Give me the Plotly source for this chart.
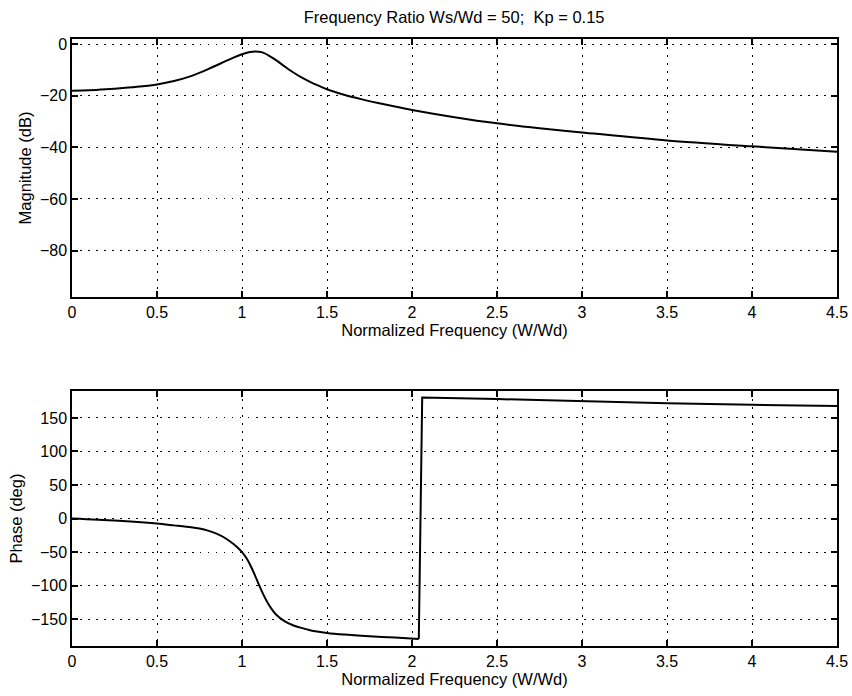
import plotly.graph_objects as go
from plotly.subplots import make_subplots

# Magnitude response (dB) vs normalized frequency
mag_x = [0, 0.1, 0.2, 0.3, 0.4, 0.5, 0.6, 0.7, 0.8, 0.9, 0.95, 1.0, 1.04, 1.08, 1.12, 1.16, 1.2, 1.25, 1.3, 1.35, 1.4, 1.45, 1.5, 1.6, 1.7, 1.8, 1.9, 2.0, 2.25, 2.5, 2.75, 3.0, 3.5, 4.0, 4.5]
mag_db = [-18.1, -17.9, -17.5, -17.0, -16.4, -15.6, -14.3, -12.4, -9.7, -6.7, -5.2, -3.9, -3.1, -2.8, -3.2, -4.5, -6.2, -8.6, -10.9, -12.9, -14.6, -16.1, -17.5, -19.6, -21.3, -22.8, -24.2, -25.5, -28.3, -30.7, -32.6, -34.2, -37.3, -39.6, -41.7]

# Phase response (deg): lower branch before the wrap, upper branch after
ph_lo_x = [0, 0.25, 0.5, 0.6, 0.7, 0.75, 0.8, 0.85, 0.9, 0.95, 0.975, 1.0, 1.025, 1.05, 1.075, 1.1, 1.125, 1.15, 1.175, 1.2, 1.25, 1.3, 1.35, 1.4, 1.5, 1.6, 1.75, 1.9, 2.04]
ph_lo_deg = [0, -3, -7.5, -10.2, -13.0, -15.0, -18.0, -22.5, -29, -38, -43.5, -50, -58.5, -70, -84, -99, -113, -125, -135, -143, -153, -159, -163, -166.5, -170.5, -173, -175.5, -177.5, -179.5]
ph_hi_x = [2.04, 2.06, 2.5, 3.0, 3.5, 4.0, 4.5]
ph_hi_deg = [-179.5, 180.5, 178, 174.6, 172, 169.6, 167.7]

x_ticks = [0, 0.5, 1, 1.5, 2, 2.5, 3, 3.5, 4, 4.5]
x_tick_text = ["0", "0.5", "1", "1.5", "2", "2.5", "3", "3.5", "4", "4.5"]
mag_ticks = [0, -20, -40, -60, -80]
ph_ticks = [150, 100, 50, 0, -50, -100, -150]

title_text = "Frequency Ratio Ws/Wd = 50;\u00a0 Kp = 0.15"
x_title = "Normalized Frequency (W/Wd)"

FONT = "Liberation Sans, Arial, Helvetica, sans-serif"

fig = make_subplots(rows=2, cols=1, vertical_spacing=0.155)

line_style = dict(color="black", width=2)
fig.add_trace(go.Scatter(x=mag_x, y=mag_db, mode="lines", line=dict(**line_style, shape="spline", smoothing=0.8),
                         showlegend=False, hoverinfo="skip"), row=1, col=1)
fig.add_trace(go.Scatter(x=ph_lo_x, y=ph_lo_deg, mode="lines", line=dict(**line_style, shape="spline", smoothing=0.8),
                         showlegend=False, hoverinfo="skip"), row=2, col=1)
fig.add_trace(go.Scatter(x=ph_hi_x, y=ph_hi_deg, mode="lines", line=dict(**line_style),
                         showlegend=False, hoverinfo="skip"), row=2, col=1)

axis_common = dict(
    showline=True, linecolor="black", linewidth=1.5, mirror="ticks",
    ticks="inside", ticklen=6, tickwidth=1.5, tickcolor="black",
    showgrid=True, gridcolor="black", gridwidth=1, griddash="1.5px,6.5px",
    zeroline=False, automargin=False,
    tickfont=dict(family=FONT, size=16, color="black"),
)

fig.update_xaxes(**axis_common, range=[0, 4.5], tickvals=x_ticks, ticktext=x_tick_text,
                 title=dict(text=x_title, font=dict(family=FONT, size=16.5, color="black"), standoff=2))
fig.update_yaxes(**axis_common)

fig.update_yaxes(range=[-98, 2], tickvals=mag_ticks, row=1, col=1,
                 title=dict(text="Magnitude (dB)", font=dict(family=FONT, size=16.5, color="black"), standoff=4))
fig.update_yaxes(range=[-190, 190], tickvals=ph_ticks, row=2, col=1,
                 title=dict(text="Phase (deg)", font=dict(family=FONT, size=16.5, color="black"), standoff=4))

fig.update_layout(
    width=852, height=696,
    margin=dict(l=72, r=15, t=39, b=50),
    paper_bgcolor="white", plot_bgcolor="white",
    title=dict(text=title_text, x=0.533, xanchor="center", y=0.975, yanchor="middle",
               font=dict(family=FONT, size=16.5, color="black")),
    font=dict(family=FONT, color="black"),
)
fig.update_layout(
    xaxis=dict(domain=[0, 1]), xaxis2=dict(domain=[0, 1]),
    yaxis=dict(domain=[0.575, 1]), yaxis2=dict(domain=[0, 0.42]),
)

fig.write_html("out.html", config={"displayModeBar": False},
               post_script="document.body.style.margin='0';document.body.style.overflow='hidden';")
